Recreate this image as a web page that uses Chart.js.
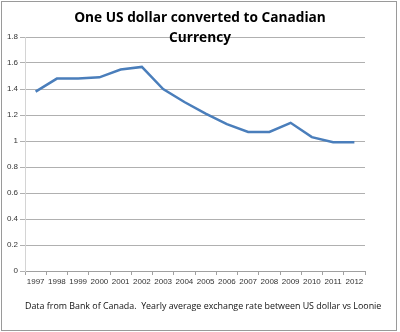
<!DOCTYPE html>
<html><head><meta charset="utf-8">
<script src="https://cdn.jsdelivr.net/npm/chart.js@4"></script>
<style>html,body{margin:0;padding:0;background:#fff;}#wrap{width:400px;height:332px;}</style>
</head><body><div id="wrap"><canvas id="c" width="400" height="332"></canvas></div>
<script>
const years = ['1997','1998','1999','2000','2001','2002','2003','2004','2005','2006','2007','2008','2009','2010','2011','2012'];
const cadPerUsd = [1.38,1.48,1.48,1.49,1.55,1.57,1.40,1.30,1.21,1.13,1.07,1.07,1.14,1.03,0.99,0.99];
const titleLines = ['One US dollar converted to Canadian','Currency'];
const footerText = 'Data from Bank of Canada.  Yearly average exchange rate between US dollar vs Loonie';

function fitFont(ctx, text, width, weight, family, start){
  let s = start;
  ctx.font = weight + ' ' + s + 'px ' + family;
  while (ctx.measureText(text).width > width && s > 5) { s -= 0.1; ctx.font = weight + ' ' + s.toFixed(1) + 'px ' + family; }
  while (ctx.measureText(text).width < width - 1 && s < 30) { s += 0.1; ctx.font = weight + ' ' + s.toFixed(1) + 'px ' + family; }
  return s;
}

const decor = {
  id: 'decor',
  beforeDraw(chart){
    const ctx = chart.ctx;
    ctx.save();
    ctx.fillStyle = '#fff';
    ctx.fillRect(0,0,chart.width,chart.height);
    ctx.restore();
  },
  afterDraw(chart){
    const ctx = chart.ctx;
    ctx.save();
    ctx.strokeStyle = '#9a9a9a';
    ctx.lineWidth = 1;
    ctx.strokeRect(1.5,1.5,395,329);
    const fam = '"Open Sans", "Liberation Sans", sans-serif';
    ctx.fillStyle = '#000';
    ctx.textAlign = 'center';
    ctx.textBaseline = 'middle';
    const ts = fitFont(ctx, titleLines[0], 251, 'bold', fam, 14);
    ctx.font = 'bold ' + ts.toFixed(1) + 'px ' + fam;
    ctx.fillText(titleLines[0], 200, 18);
    ctx.fillText(titleLines[1], 200, 38);
    const fs = fitFont(ctx, footerText, 355, 'normal', fam, 10);
    ctx.font = fs.toFixed(1) + 'px ' + fam;
    ctx.textAlign = 'left';
    ctx.fillStyle = '#111';
    ctx.fillText(footerText, 25, 306);
    ctx.restore();
  }
};

new Chart(document.getElementById('c'), {
  type: 'line',
  data: { labels: years, datasets: [{ data: cadPerUsd, borderColor: '#4a7ebb', borderWidth: 2.5, pointRadius: 0, tension: 0, fill: false }] },
  options: {
    responsive: false, animation: false,
    layout: { padding: { top: 37, right: 35, bottom: 47, left: 0 } },
    plugins: { legend: { display: false }, tooltip: { enabled: false }, title: { display: false } },
    scales: {
      x: {
        offset: true,
        afterFit(s){ s.height = 14; },
        grid: { display: true, drawOnChartArea: false, offset: true, tickLength: 4, color: '#a0a0a0' },
        border: { color: '#a0a0a0' },
        ticks: { color: '#333', font: { size: 8, family: 'Liberation Sans' }, padding: 2, maxRotation: 0, autoSkip: false }
      },
      y: {
        min: 0, max: 1.8,
        afterFit(s){ s.width = 25; },
        grid: { color: '#b0b0b0', tickLength: 5 },
        border: { color: '#d4d4d4' },
        ticks: { stepSize: 0.2, color: '#333', font: { size: 8, family: 'Liberation Sans' }, padding: 2,
          callback: v => String(parseFloat(v.toFixed(1))) }
      }
    }
  },
  plugins: [decor]
});
</script></body></html>
